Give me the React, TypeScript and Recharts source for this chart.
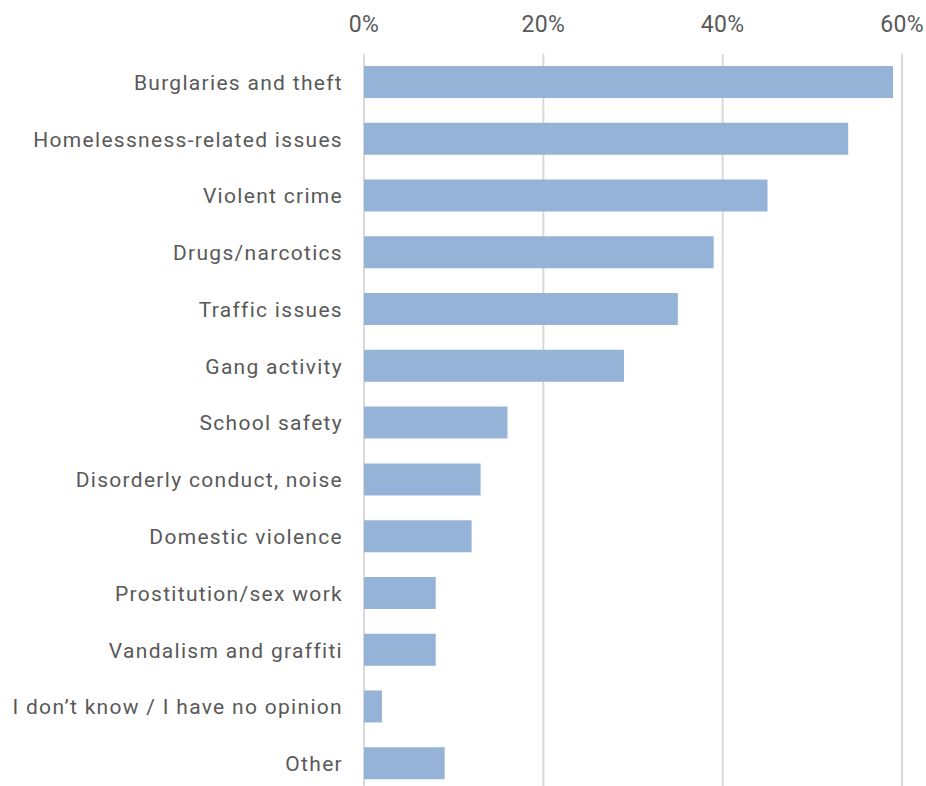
import React from 'react';
import { BarChart, Bar, XAxis, YAxis, CartesianGrid } from 'recharts';

const categories = [
  'Burglaries and theft',
  'Homelessness-related issues',
  'Violent crime',
  'Drugs/narcotics',
  'Traffic issues',
  'Gang activity',
  'School safety',
  'Disorderly conduct, noise',
  'Domestic violence',
  'Prostitution/sex work',
  'Vandalism and graffiti',
  'I don\u2019t know / I have no opinion',
  'Other',
];
const values = [59, 54, 45, 39, 35, 29, 16, 13, 12, 8, 8, 2, 9];
const xTicks = [0, 20, 40, 60];

const data = categories.map((name, i) => ({ name, value: values[i] }));

const FONT = 'Roboto, "Noto Sans", sans-serif';
const TEXT = '#595959';

export default function App() {
  return (
    <div style={{ position: 'fixed', top: 0, left: 0, width: 926, height: 786, overflow: 'hidden', background: '#fff' }}>
      <BarChart
        width={926}
        height={800}
        data={data}
        layout="vertical"
        margin={{ top: 0, right: 24, bottom: 8, left: 0 }}
        barCategoryGap={0}
      >
        <CartesianGrid horizontal={false} stroke="#d9d9d9" strokeWidth={2} />
        <XAxis
          type="number"
          orientation="top"
          domain={[0, 60]}
          ticks={xTicks}
          tickFormatter={(v: number) => `${v}%`}
          axisLine={false}
          tickLine={false}
          tickSize={0}
          tickMargin={22}
          height={54}
          tick={{ fill: TEXT, fontSize: 23, fontFamily: FONT, letterSpacing: 0.3 }}
          interval={0}
        />
        <YAxis
          type="category"
          dataKey="name"
          width={364}
          axisLine={false}
          tickLine={false}
          tickSize={0}
          tickMargin={21}
          interval={0}
          tick={{ fill: TEXT, fontSize: 21, fontFamily: FONT, letterSpacing: 1.3 }}
        />
        <Bar dataKey="value" fill="#95b3d7" barSize={32} isAnimationActive={false} />
      </BarChart>
    </div>
  );
}
